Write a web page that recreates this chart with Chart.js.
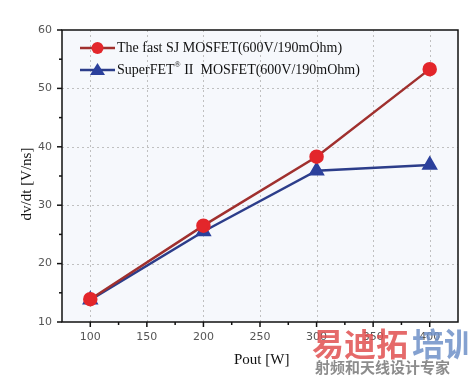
<!DOCTYPE html>
<html><head><meta charset="utf-8">
<script src="https://cdn.jsdelivr.net/npm/chart.js@4/dist/chart.umd.min.js"></script>
<style>html,body{margin:0;padding:0;background:#fff}#c{display:block}</style>
</head><body>
<canvas id="c" width="469" height="376"></canvas>
<script>
const pout = [100, 200, 300, 400];
const fastSJ = [13.9, 26.5, 38.3, 53.3];
const superFET = [13.8, 25.5, 35.9, 36.9];
const seriesLabels = ['The fast SJ MOSFET(600V/190mOhm)', 'SuperFET® II  MOSFET(600V/190mOhm)'];
const xMajorTicks = [100, 150, 200, 250, 300, 350, 400];
const xMinorTicks = [125, 175, 225, 275, 325, 375];
const yMajorTicks = [10, 20, 30, 40, 50, 60];
const yMinorTicks = [15, 25, 35, 45, 55];
const xTitle = 'Pout [W]';
const yTitle = 'dv/dt [V/ns]';
const wmBig = ['易迪拓', '培训'];
const wmSmall = '射频和天线设计专家';

const serif = '"Liberation Serif","DejaVu Serif",serif';
const sans = '"DejaVu Sans","Liberation Sans",sans-serif';

const decor = {
  id: 'decor',
  beforeDatasetsDraw(chart) {
    const {ctx, chartArea: a, scales: {x, y}} = chart;
    ctx.save();
    ctx.fillStyle = '#f6f8fc';
    ctx.fillRect(a.left, a.top, a.right - a.left, a.bottom - a.top);
    ctx.strokeStyle = '#c0c0c0';
    ctx.lineWidth = 1;
    ctx.setLineDash([2, 3]);
    xMajorTicks.forEach(v => { const px = Math.round(x.getPixelForValue(v)) + 0.5; ctx.beginPath(); ctx.moveTo(px, a.top); ctx.lineTo(px, a.bottom); ctx.stroke(); });
    yMajorTicks.forEach(v => { const py = Math.round(y.getPixelForValue(v)) + 0.5; if (py < a.top + 2 || py > a.bottom - 2) return; ctx.beginPath(); ctx.moveTo(a.left, py); ctx.lineTo(a.right, py); ctx.stroke(); });
    ctx.restore();
  },
  afterDatasetsDraw(chart) {
    const {ctx, chartArea: a, scales: {x, y}} = chart;
    ctx.save();
    ctx.strokeStyle = '#111';
    ctx.lineWidth = 1.5;
    ctx.strokeRect(a.left, a.top, a.right - a.left, a.bottom - a.top);
    xMajorTicks.forEach(v => { const px = x.getPixelForValue(v); ctx.beginPath(); ctx.moveTo(px, a.bottom); ctx.lineTo(px, a.bottom + 5); ctx.stroke(); });
    xMinorTicks.forEach(v => { const px = x.getPixelForValue(v); ctx.beginPath(); ctx.moveTo(px, a.bottom); ctx.lineTo(px, a.bottom + 3); ctx.stroke(); });
    yMajorTicks.forEach(v => { const py = y.getPixelForValue(v); ctx.beginPath(); ctx.moveTo(a.left, py); ctx.lineTo(a.left - 5, py); ctx.stroke(); });
    yMinorTicks.forEach(v => { const py = y.getPixelForValue(v); ctx.beginPath(); ctx.moveTo(a.left, py); ctx.lineTo(a.left - 3, py); ctx.stroke(); });

    // legend
    const ds = chart.data.datasets;
    const rows = [a.top + 18, a.top + 40];
    ds.forEach((d, i) => {
      const yy = rows[i];
      ctx.strokeStyle = d.borderColor; ctx.lineWidth = 2.5; ctx.setLineDash([]);
      ctx.beginPath(); ctx.moveTo(a.left + 18, yy); ctx.lineTo(a.left + 53, yy); ctx.stroke();
      ctx.fillStyle = d.pointBackgroundColor;
      if (i === 0) { ctx.beginPath(); ctx.arc(a.left + 35.5, yy, 6, 0, Math.PI * 2); ctx.fill(); }
      else { ctx.beginPath(); ctx.moveTo(a.left + 35.5, yy - 7); ctx.lineTo(a.left + 43, yy + 5); ctx.lineTo(a.left + 28, yy + 5); ctx.closePath(); ctx.fill(); }
      ctx.fillStyle = '#111'; ctx.textBaseline = 'middle'; ctx.textAlign = 'left';
      ctx.font = '14px ' + serif;
      const tx = a.left + 55;
      if (i === 0) ctx.fillText(seriesLabels[0], tx, yy);
      else {
        const parts = seriesLabels[1].split('®');
        ctx.fillText(parts[0], tx, yy);
        let w = ctx.measureText(parts[0]).width;
        ctx.font = '8px ' + serif; ctx.fillText('®', tx + w, yy - 5);
        w += ctx.measureText('®').width;
        ctx.font = '14px ' + serif; ctx.fillText(parts[1], tx + w, yy);
      }
    });

    // axis titles
    ctx.fillStyle = '#111';
    ctx.font = '15px ' + serif;
    ctx.textAlign = 'left'; ctx.textBaseline = 'middle';
    ctx.fillText(xTitle, 234, 360);
    ctx.textAlign = 'center';
    ctx.save(); ctx.translate(27, 184); ctx.rotate(-Math.PI / 2); ctx.fillText(yTitle, 0, 0); ctx.restore();

    // watermark
    ctx.textAlign = 'left'; ctx.textBaseline = 'alphabetic';
    ctx.font = 'bold 32px "Noto Sans CJK SC",sans-serif';
    ctx.fillStyle = 'rgba(225,80,80,0.85)';
    ctx.fillText(wmBig[0], 312, 356);
    const w0 = ctx.measureText(wmBig[0]).width;
    ctx.fillStyle = 'rgba(110,145,200,0.85)';
    ctx.fillText(wmBig[1], 312 + w0 + 4, 356);
    ctx.font = 'bold 15px "Noto Sans CJK SC",sans-serif';
    ctx.fillStyle = 'rgba(120,120,120,0.85)';
    ctx.fillText(wmSmall, 315, 373);
    ctx.restore();
  }
};

new Chart(document.getElementById('c'), {
  type: 'line',
  data: {
    datasets: [
      { label: seriesLabels[0], data: pout.map((p, i) => ({x: p, y: fastSJ[i]})),
        borderColor: '#a0302e', backgroundColor: '#e3262b', pointBackgroundColor: '#e3262b', pointBorderColor: '#e3262b',
        borderWidth: 2.5, pointRadius: 6, pointStyle: 'circle', tension: 0 },
      { label: seriesLabels[1], data: pout.map((p, i) => ({x: p, y: superFET[i]})),
        borderColor: '#2c3d8a', backgroundColor: '#2b409c', pointBackgroundColor: '#2b409c', pointBorderColor: '#2b409c',
        borderWidth: 2.5, pointRadius: 7, pointStyle: 'triangle', tension: 0 }
    ]
  },
  options: {
    responsive: false, animation: false,
    layout: { padding: { top: 30, right: 11, left: 0, bottom: 0 } },
    plugins: { legend: { display: false }, tooltip: { enabled: false } },
    scales: {
      x: { type: 'linear', min: 75, max: 425,
        afterBuildTicks: s => { s.ticks = xMajorTicks.map(v => ({value: v})); },
        afterFit: s => { s.height = 54; },
        grid: { display: false, drawTicks: false }, border: { display: false },
        ticks: { padding: 9, color: '#555', font: { family: sans, size: 11 } } },
      y: { type: 'linear', min: 10, max: 60,
        afterBuildTicks: s => { s.ticks = yMajorTicks.map(v => ({value: v})); },
        afterFit: s => { s.width = 62; },
        grid: { display: false, drawTicks: false }, border: { display: false },
        ticks: { padding: 10, color: '#555', font: { family: sans, size: 11 } } }
    }
  },
  plugins: [decor]
});
</script>
</body></html>
